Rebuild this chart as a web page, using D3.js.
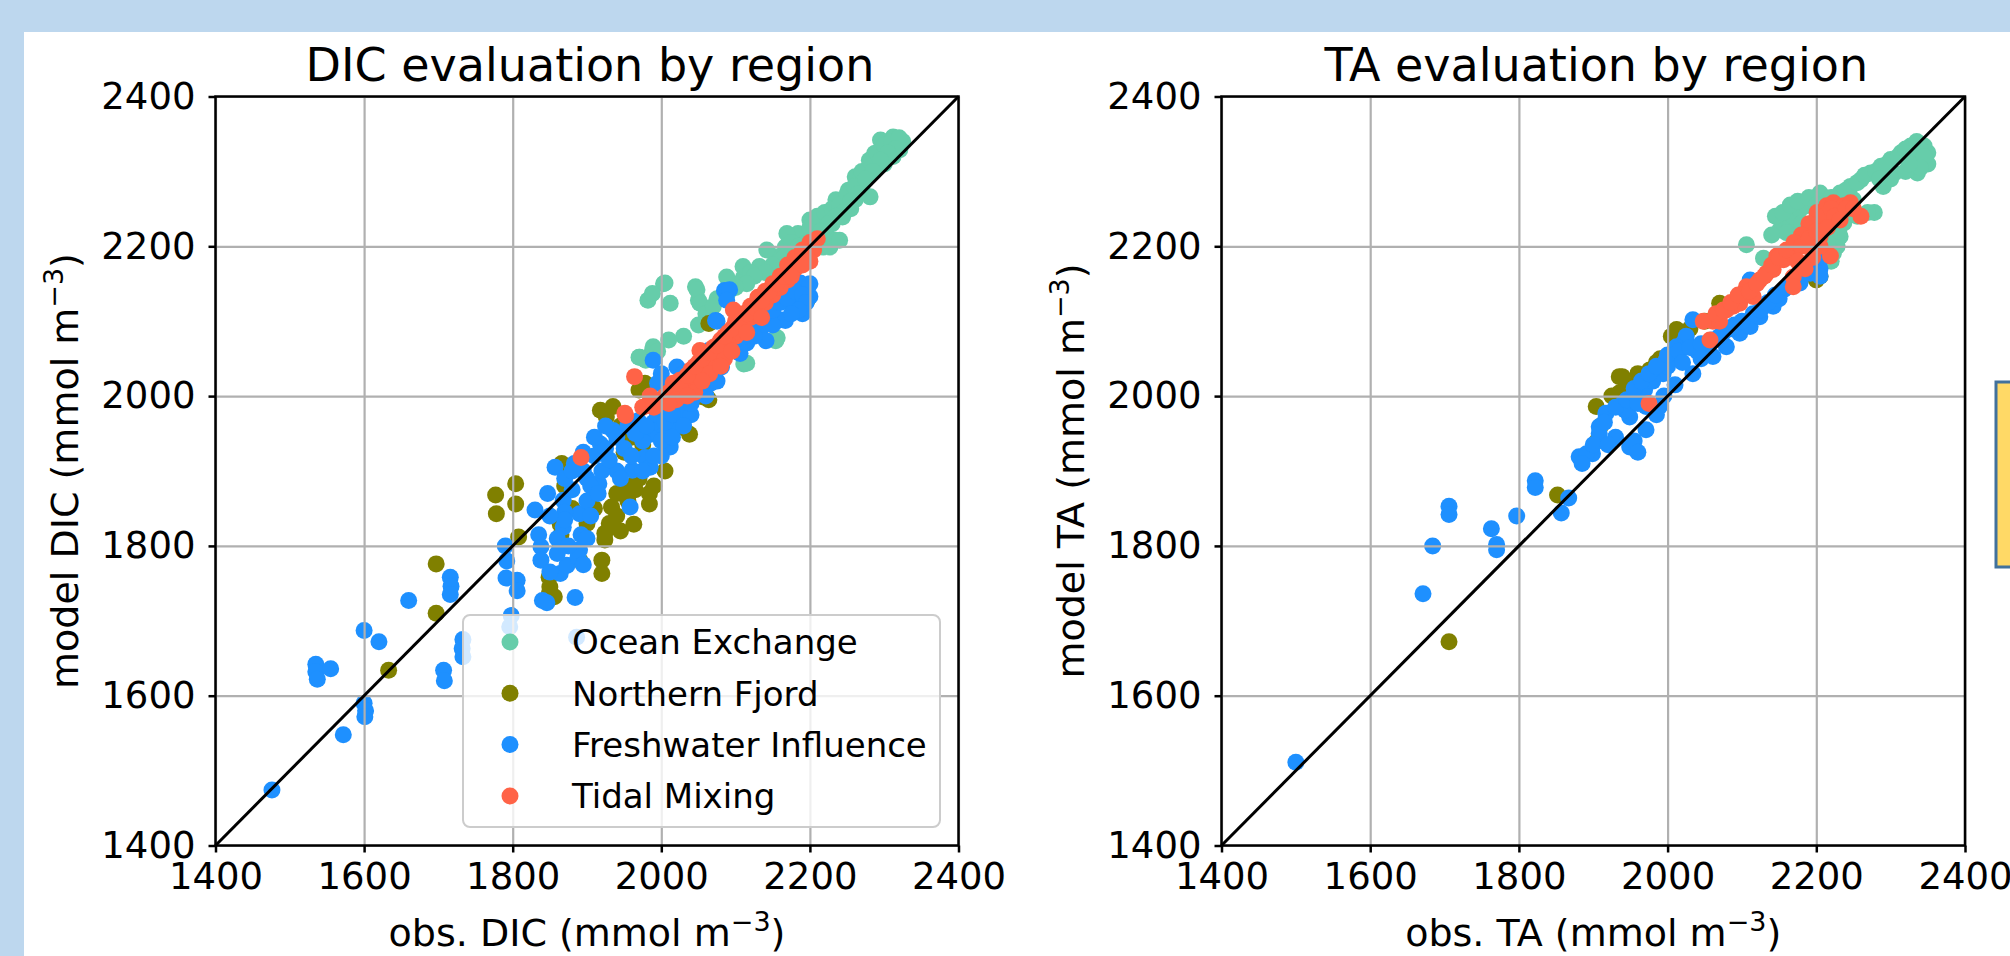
<!DOCTYPE html>
<html><head><meta charset="utf-8">
<script src="https://cdn.jsdelivr.net/npm/d3@7"></script>
<style>
body{margin:0;background:#fff;}
svg{display:block;}
text{font-family:"DejaVu Sans",sans-serif;fill:#000;}
</style>
</head><body>
<svg id="c" width="2010" height="956"></svg>
<script>
// ---------- data ----------
const tickValues = [1400, 1600, 1800, 2000, 2200, 2400];
const regions = ["Ocean Exchange", "Northern Fjord", "Freshwater Influence", "Tidal Mixing"];
const regionColors = ["#66CDAA", "#808000", "#1E90FF", "#FF6347"];

// DIC panel: [obs, model]
const dicOcean = [[2312,2346],[2321,2329],[2304,2320],[2287,2324],[2282,2306],[2261,2293],[2252,2275],[2261,2262],[2235,2262],[2244,2239],[2222,2222],[2235,2208],[2205,2235],[2184,2217],[2167,2199],[2154,2186],[2132,2173],[2111,2159],[2098,2150],[2089,2137],[2218,2199],[2192,2190],[2295,2342],[2278,2297],[2209,2208],[2003,2150],[1982,2128],[2012,2124],[2046,2146],[2050,2128],[1988,2137],[2154,2074],[2111,2043],[1988,2061],[1979,2048],[1970,2052],[2005,2151],[2048,2142],[2052,2124],[2115,2044],[2156,2078],[1989,2066],[1971,2052],[2088,2159],[2110,2173],[2142,2195],[2169,2217],[2200,2235],[2227,2199],[2240,2208],[2249,2262],[2268,2293],[2290,2306],[2312,2320],[2281,2266],[2325,2340],[2300,2310],[2270,2280],[2255,2250],[2230,2230],[2215,2215],[2195,2200],[2175,2205],[2120,2165],[2075,2130],[2060,2110],[2050,2095],[2030,2080],[2010,2075],[1995,2060],
 [2200,2225],[2210,2240],[2220,2245],[2230,2250],[2240,2255],[2250,2270],[2260,2280],[2270,2300],[2280,2315],[2290,2325],[2300,2335],[2310,2340],[2320,2345],[2315,2330],[2305,2325],[2295,2315],[2285,2300],[2275,2290],[2265,2270],[2255,2260],[2245,2245],[2235,2240],[2225,2230],[2215,2220],[2205,2210],[2195,2205],[2185,2200],[2175,2190],[2165,2185],[2150,2175],[2140,2165],[2125,2160],[2115,2150],[2100,2145],[2080,2130],[2070,2120]];
const dicFjord = [[1697,1776],[1697,1710],[1633,1634],[1777,1868],[1778,1843],[1804,1883],[1804,1856],[1808,1812],[1849,1758],[1850,1745],[1849,1736],[1864,1829],[1865,1815],[1864,1799],[1890,1781],[1920,1763],[1924,1817],[1924,1808],[1920,1781],[1963,1829],[1984,1870],[1984,1856],[1933,1852],[1856,1732],[1926,1972],[1918,1981],[1935,1986],[2029,1958],[2038,1949],[2055,1999],[2064,1995],[1978,2017],[1970,2008],[1866,1910],[2064,2097],[2192,2124],[1940,1870],[1955,1880],[1970,1890],[1990,1880],[2005,1900],[1870,1880],[1880,1850],[1900,1830],[1910,1850],[1945,1960],[1960,1945],[1950,1925],[1975,1935],[2061,1999],[2196,2128],[1940,1840],[1955,1860],[1965,1875],[1930,1830],[1945,1820]];
const dicFresh = [[1476,1474],[1572,1548],[1600,1590],[1602,1580],[1601,1572],[1600,1687],[1620,1672],[1535,1642],[1535,1632],[1537,1622],[1555,1636],[1660,1727],[1707,1634],[1708,1620],[1716,1758],[1717,1746],[1716,1735],[1733,1675],[1732,1663],[1733,1652],[1790,1800],[1792,1780],[1791,1757],[1798,1707],[1796,1692],[1886,1678],[1806,1754],[1806,1740],[1838,1799],[1838,1781],[1840,1727],[1846,1724],[1864,1763],[1873,1774],[1884,1731],[1890,1843],[1892,1815],[1890,1795],[1888,1785],[1868,1861],[1870,1845],[1868,1825],[1830,1848],[1847,1870],[1916,1883],[1958,1852],
 [1857,1905],[1883,1910],[1900,1890],[1918,1936],[1935,1954],[1950,1930],[1969,1967],[1986,1949],[2012,1932],[2003,1958],[2029,1981],[1978,1918],[1961,1901],[2008,1981],[2012,1995],[2025,1981],[2007,1946],[1940,1900],[1960,1920],[1975,1940],[1990,1965],[2000,1920],[1920,1900],[1905,1880],[1880,1875],[1930,1915],[1945,1890],[1985,1905],[2020,1960],[2040,1975],[2045,2000],[2038,2030],[2052,2004],[2055,2012],[2066,2017],
 [2081,2039],[2064,2061],[2098,2084],[2098,2066],[2106,2057],[2115,2071],[2133,2088],[2141,2074],[2160,2102],[2167,2101],[2184,2128],[2197,2146],[2175,2155],[2162,2137],[2169,2151],[2200,2133],[2187,2151],[2200,2150],[2190,2110],[2180,2120],[2150,2095],[2125,2080],[2085,2141],[2092,2142],[2088,2128],[2073,2101],[2075,2100],[1989,2048],[2000,2030],[1995,2017],[2021,2039],[2030,2030],
 [1870,1890],[1895,1900],[1910,1920],[1925,1930],[1940,1945],[1955,1960],[1965,1950],[1980,1960],[1995,1975],[2005,1965],[2015,1975],[2025,1995],[2035,2005],[2045,2015],[2055,2025],[2060,2040],[2070,2030],[2080,2050],[2090,2060],[2100,2075],[2110,2080],[2120,2090],[2130,2100],[2140,2110],[2150,2115],[2160,2125],[2170,2130],[2180,2140],[2190,2135],[2195,2125],[2185,2115],[2175,2110],[1900,1860],[1915,1870],[1880,1900],[1895,1925],[1910,1945],[1925,1960],[1905,1840],[1870,1835],[1860,1810],[1875,1800],[1900,1810],[1895,1775],[1860,1790],[1850,1765],[1835,1815],[1850,1840],[1975,1900],[1990,1920],[2000,1940],[2015,1945],[2030,1960],[2040,1990],[2060,2000],[2075,2020]];
const dicTidal = [[1892,1918],[1952,1974],[1951,1977],[1975,1985],[1996,1991],[2025,2021],[1964,2026],[2000,1995],[2010,2005],[2020,2015],[2030,2020],[2040,2035],[2050,2045],[2060,2055],[2070,2065],[2080,2075],[2090,2085],[2100,2100],[2110,2110],[2120,2120],[2130,2132],[2140,2140],[2150,2150],[2160,2160],[2170,2175],[2180,2185],[2190,2195],[2200,2205],[2210,2210],[2205,2195],[2100,2080],[2080,2060],[2060,2040],[2050,2030],[2040,2020],[2030,2005],[2070,2045],[2090,2070],[2110,2095],[2130,2115],[2150,2135],[2170,2155],[2180,2170],[2120,2105],[2140,2125],[2160,2145],[2045,2005],[2065,2030],[2085,2050],[2055,2020],[2097,2115],[2052,2061],[2016,2017],
 [2005,2000],[2015,2008],[2025,2012],[2035,2028],[2045,2040],[2055,2050],[2065,2058],[2075,2068],[2085,2080],[2095,2090],[2105,2100],[2115,2110],[2125,2118],[2135,2128],[2145,2140],[2155,2150],[2165,2160],[2175,2170],[2185,2180],[2195,2190],[2200,2180],[2190,2175],[2175,2160],[2020,1995],[2010,1990],[1990,1985],[1985,2000],[2035,2000],[2080,2040],[2095,2060],[2115,2085],[2135,2105]];

// TA panel: [obs, model]
const taOcean = [[2106,2202],[2129,2184],[2156,2231],[2151,2222],[2165,2227],[2169,2240],[2178,2249],[2187,2254],[2160,2218],[2201,2240],[2214,2262],[2232,2271],[2246,2280],[2260,2289],[2273,2298],[2287,2307],[2300,2316],[2314,2325],[2327,2334],[2345,2334],[2350,2325],[2336,2298],[2332,2316],[2305,2298],[2278,2245],[2269,2245],[2237,2231],[2228,2200],[2223,2191],[2232,2213],[2205,2271],[2250,2262],[2340,2329],[2320,2300],[2290,2280],[2350,2310],[2180,2230],
 [2140,2215],[2145,2240],[2155,2245],[2165,2255],[2175,2260],[2190,2265],[2200,2255],[2210,2250],[2220,2265],[2240,2275],[2255,2285],[2265,2295],[2280,2300],[2295,2310],[2310,2320],[2320,2330],[2335,2340],[2345,2320],[2340,2305],[2325,2310],[2300,2290],[2285,2290],[2245,2250],[2255,2240],[2230,2220],[2215,2205],[2220,2180]];
const taFjord = [[1706,1672],[1852,1868],[1904,1986],[1935,2026],[1935,2004],[1976,2035],[2012,2089],[2016,2075],[2070,2124],[2205,2160],[1906,1941],[1908,1941],[1939,2026],[2013,2088],[1960,2030],[1990,2050],[1910,1960],[1925,2000],[1945,2015],[1985,2045],[2005,2080],[2030,2090],[2050,2100],[2200,2155]];
const taFresh = [[1500,1511],[1671,1736],[1684,1800],[1706,1853],[1706,1842],[1763,1823],[1770,1802],[1770,1795],[1797,1840],[1822,1887],[1822,1878],[1857,1844],[1867,1864],[1881,1919],[1899,1923],[1908,1959],[1917,1977],[1940,1990],[1949,1972],[1962,2004],[1971,1986],[1971,1955],[1949,1932],[1989,1986],[1994,2030],[2007,2053],[2021,2071],[2034,2030],[2052,2066],[2061,2053],[2079,2066],[2097,2084],[2111,2093],[2124,2106],[2142,2120],[2156,2142],[2169,2155],[2178,2151],[2192,2164],[2205,2182],[2205,2170],[2205,2160],[2111,2155],[2034,2102],[2025,2080],[2012,2066],[1998,2048],[1891,1923],[1908,1950],[1943,1981],[1969,2008],[1987,1986],[1955,1940],[1960,1925],[2040,2060],[2070,2080],[2090,2095],[2150,2130],[2130,2120],[1980,2020],[2000,2040],
 [1885,1910],[1900,1935],[1915,1965],[1930,1985],[1945,1995],[1955,2010],[1965,2020],[1975,2030],[1985,2040],[2000,2055],[2015,2060],[2030,2065],[2045,2070],[2060,2075],[2075,2085],[2085,2090],[2100,2100],[2115,2110],[2125,2115],[2135,2125],[2145,2135],[2160,2145],[2175,2160],[2185,2165],[2195,2175],[2020,2045],[2045,2050],[1985,1975],[1995,2000],[2010,2015],[1930,1945],[1920,1935],[1960,1990]];
const taTidal = [[1975,1990],[2057,2075],[2061,2100],[2070,2100],[2088,2120],[2097,2124],[2115,2133],[2124,2155],[2133,2164],[2142,2169],[2156,2182],[2165,2191],[2169,2159],[2178,2200],[2187,2209],[2196,2196],[2205,2213],[2210,2231],[2201,2245],[2214,2254],[2223,2258],[2237,2254],[2246,2258],[2260,2240],[2219,2187],[2169,2146],[2048,2100],[2079,2115],[2106,2146],[2147,2187],[2230,2245],[2190,2230],[2180,2215],
 [2065,2110],[2075,2115],[2085,2125],[2095,2135],[2110,2140],[2120,2150],[2130,2160],[2140,2175],[2150,2185],[2160,2195],[2170,2205],[2180,2200],[2190,2210],[2200,2220],[2210,2240],[2220,2250],[2225,2240],[2215,2225],[2205,2200],[2195,2185],[2185,2170],[2175,2180],[2240,2250],[2250,2250],[2232,2235]];

// ---------- layout ----------
const svg = d3.select("#c");
svg.append("rect").attr("width",2010).attr("height",956).attr("fill","#BDD7EE");
svg.append("rect").attr("x",24).attr("y",32).attr("width",1990).attr("height",930).attr("fill","#ffffff");

const panels = [
  {title:"DIC evaluation by region", xlab:"obs. DIC", ylab:"model DIC", left:215.5, right:958.5, series:[dicOcean,dicFjord,dicFresh,dicTidal], legend:true},
  {title:"TA evaluation by region", xlab:"obs. TA", ylab:"model TA", left:1221.5, right:1965, series:[taOcean,taFjord,taFresh,taTidal], legend:false}
];
const plotTop = 96.5, plotBottom = 845.5;
const R = 8.5;

panels.forEach(p => {
  const x = d3.scaleLinear().domain([1400,2400]).range([p.left,p.right]);
  const y = d3.scaleLinear().domain([1400,2400]).range([plotBottom,plotTop]);
  const g = svg.append("g");
  const W = p.right - p.left, H = plotBottom - plotTop;

  p.series.forEach((s,i) => {
    g.append("g").selectAll("circle").data(s).join("circle")
      .attr("cx",d=>x(d[0])).attr("cy",d=>y(d[1])).attr("r",R)
      .attr("fill",regionColors[i]);
  });

  g.append("g").attr("transform",`translate(0,${plotBottom})`)
    .call(d3.axisBottom(x).tickValues(tickValues).tickSize(-H).tickFormat(""))
    .call(a=>a.select(".domain").remove())
    .call(a=>a.selectAll("line").attr("stroke","#b0b0b0").attr("stroke-width",2.2));
  g.append("g").attr("transform",`translate(${p.left},0)`)
    .call(d3.axisLeft(y).tickValues(tickValues).tickSize(-W).tickFormat(""))
    .call(a=>a.select(".domain").remove())
    .call(a=>a.selectAll("line").attr("stroke","#b0b0b0").attr("stroke-width",2.2));

  g.append("line").attr("x1",x(1400)).attr("y1",y(1400)).attr("x2",x(2400)).attr("y2",y(2400))
    .attr("stroke","#000").attr("stroke-width",3);

  g.append("rect").attr("x",p.left).attr("y",plotTop).attr("width",W).attr("height",H)
    .attr("fill","none").attr("stroke","#000").attr("stroke-width",2.5);

  const ax = g.append("g").attr("transform",`translate(0,${plotBottom})`)
    .call(d3.axisBottom(x).tickValues(tickValues).tickSize(7).tickPadding(10).tickFormat(d3.format("d")));
  const ay = g.append("g").attr("transform",`translate(${p.left},0)`)
    .call(d3.axisLeft(y).tickValues(tickValues).tickSize(7).tickPadding(13).tickFormat(d3.format("d")));
  [ax,ay].forEach(a=>{
    a.select(".domain").remove();
    a.selectAll("line").attr("stroke","#000").attr("stroke-width",2.5);
    a.selectAll("text").attr("font-size",37).attr("font-family","DejaVu Sans").attr("fill","#000");
  });

  g.append("text").attr("x",(p.left+p.right)/2 + 3).attr("y",81).attr("text-anchor","middle")
    .attr("font-size",46).text(p.title);

  const xl = g.append("text").attr("x",(p.left+p.right)/2).attr("y",946).attr("text-anchor","middle").attr("font-size",38);
  xl.append("tspan").text(p.xlab + " (mmol m");
  xl.append("tspan").attr("font-size",27).attr("dy",-15).text("\u22123");
  xl.append("tspan").attr("dy",15).text(")");

  const yl = g.append("text").attr("transform",`translate(${p.left-137.5},${(plotTop+plotBottom)/2}) rotate(-90)`)
    .attr("text-anchor","middle").attr("font-size",38);
  yl.append("tspan").text(p.ylab + " (mmol m");
  yl.append("tspan").attr("font-size",27).attr("dy",-15).text("\u22123");
  yl.append("tspan").attr("dy",15).text(")");

  if (p.legend) {
    const lg = g.append("g");
    lg.append("rect").attr("x",463).attr("y",615).attr("width",477).attr("height",212).attr("rx",7)
      .attr("fill","#ffffff").attr("fill-opacity",0.8).attr("stroke","#cccccc").attr("stroke-width",2);
    regions.forEach((r,i)=>{
      const cy = 642 + i*51.3;
      lg.append("circle").attr("cx",510).attr("cy",cy).attr("r",R).attr("fill",regionColors[i]);
      lg.append("text").attr("x",572).attr("y",cy).attr("dy","0.36em").attr("font-size",34).text(r);
    });
  }
});

svg.append("rect").attr("x",1996).attr("y",382).attr("width",30).attr("height",185)
  .attr("fill","#FFD966").attr("stroke","#41719C").attr("stroke-width",3);
</script>
</body></html>
